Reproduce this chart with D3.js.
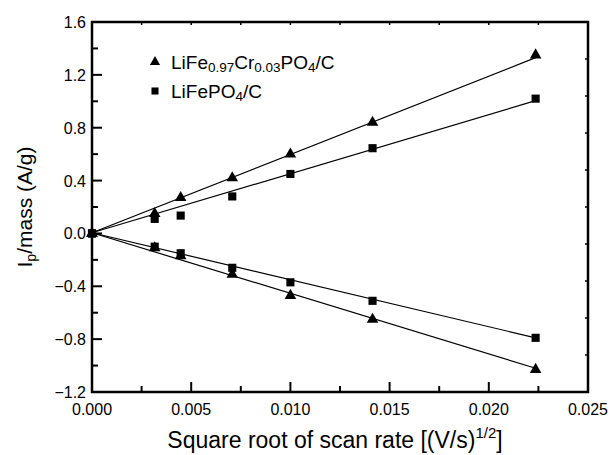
<!DOCTYPE html>
<head>
    <meta charset="utf-8">
    <style>
        body { margin: 0; background: #fff; }
        text { font-family: "Liberation Sans", Arial, sans-serif; fill: #000; }
    </style>
</head>
<body>
    <div id="chart"></div>
    <script src="https://d3js.org/d3.v7.min.js"></script>
    <script>
        // square root of scan rate, (V/s)^1/2
        var sqrtRate = [0, 0.00316, 0.00447, 0.00707, 0.0100, 0.01414, 0.02236];

        // LiFe0.97Cr0.03PO4/C, anodic (upper) and cathodic (lower) peaks
        var crAnodic   = [0, 0.15, 0.27, 0.42, 0.60, 0.84, 1.35];
        var crCathodic = [0, -0.11, -0.17, -0.31, -0.47, -0.65, -1.03];
        // LiFePO4/C
        var lfpAnodic   = [0, 0.11, 0.135, 0.28, 0.45, 0.645, 1.02];
        var lfpCathodic = [0, -0.10, -0.15, -0.26, -0.37, -0.51, -0.79];

        // linear fit end points [x, y]
        var fitEnds = [
            [[0, 0.005], [0.02236, 1.33]],
            [[0, 0.005], [0.02236, 1.005]],
            [[0, 0.005], [0.02236, -0.79]],
            [[0, 0.005], [0.02236, -1.02]]
        ];

        var xTicks = [0, 0.005, 0.010, 0.015, 0.020, 0.025];
        var yTicks = [-1.2, -0.8, -0.4, 0.0, 0.4, 0.8, 1.2, 1.6];

        var W = 611, H = 455;
        var margin = {top: 22, right: 23, bottom: 63, left: 92};
        var width = W - margin.left - margin.right,
            height = H - margin.top - margin.bottom;

        var svg = d3.select("#chart").append("svg")
            .attr("width", W)
            .attr("height", H);

        var g = svg.append("g")
            .attr("transform", "translate(" + margin.left + "," + margin.top + ")");

        var x = d3.scaleLinear().domain([0, 0.025]).range([0, width]);
        var y = d3.scaleLinear().domain([-1.2, 1.6]).range([height, 0]);

        var fmtX = d3.format(".3f");
        var fmtY = function(d) { return d3.format(".1f")(d).replace("-", "\u2212"); };

        // minor tick values
        var xMinor = d3.range(0, 11).map(function(i) { return i * 0.0025; });
        var yMinor = d3.range(0, 15).map(function(i) { return -1.2 + i * 0.2; });
        var xTop = d3.range(0, 11).map(function(i) { return i * 0.0025; });
        var yRight = d3.range(0, 11).map(function(i) { return -1.2 + i * 0.28; });

        // bottom axis ticks (inward)
        g.selectAll(".xminor").data(xMinor).enter().append("line")
            .attr("x1", function(d) { return x(d); })
            .attr("x2", function(d) { return x(d); })
            .attr("y1", height)
            .attr("y2", function(d, i) { return i % 2 === 0 ? height - 10 : height - 6; })
            .attr("stroke", "#000").attr("stroke-width", 2);

        g.selectAll(".yminor").data(yMinor).enter().append("line")
            .attr("y1", function(d) { return y(d); })
            .attr("y2", function(d) { return y(d); })
            .attr("x1", 0)
            .attr("x2", function(d, i) { return i % 2 === 0 ? 10 : 6; })
            .attr("stroke", "#000").attr("stroke-width", 2);

        // top and right small ticks
        g.selectAll(".xtop").data(xTop).enter().append("line")
            .attr("x1", function(d) { return x(d); })
            .attr("x2", function(d) { return x(d); })
            .attr("y1", 0).attr("y2", 3)
            .attr("stroke", "#000").attr("stroke-width", 1.5);

        g.selectAll(".yright").data(yRight).enter().append("line")
            .attr("y1", function(d) { return y(d); })
            .attr("y2", function(d) { return y(d); })
            .attr("x1", width).attr("x2", width - 3)
            .attr("stroke", "#000").attr("stroke-width", 1.5);

        // frame
        g.append("rect")
            .attr("x", 0).attr("y", 0)
            .attr("width", width).attr("height", height)
            .attr("fill", "none").attr("stroke", "#000").attr("stroke-width", 2.5);

        // tick labels
        g.selectAll(".xlab").data(xTicks).enter().append("text")
            .attr("x", function(d) { return x(d); })
            .attr("y", height + 23)
            .attr("text-anchor", "middle")
            .attr("font-size", 16)
            .text(fmtX);

        g.selectAll(".ylab").data(yTicks).enter().append("text")
            .attr("x", -6)
            .attr("y", function(d) { return y(d) + 6; })
            .attr("text-anchor", "end")
            .attr("font-size", 16)
            .text(fmtY);

        // fit lines
        var line = d3.line()
            .x(function(d) { return x(d[0]); })
            .y(function(d) { return y(d[1]); });

        g.selectAll(".fit").data(fitEnds).enter().append("path")
            .attr("d", line)
            .attr("fill", "none")
            .attr("stroke", "#000")
            .attr("stroke-width", 1.2);

        // markers
        var tri = d3.symbol().type(d3.symbolTriangle).size(58);
        var sq = d3.symbol().type(d3.symbolSquare).size(66);

        function drawPoints(vals, sym) {
            g.append("g").selectAll("path").data(vals).enter().append("path")
                .attr("d", sym)
                .attr("transform", function(d, i) {
                    return "translate(" + x(sqrtRate[i]) + "," + y(d) + ")";
                })
                .attr("fill", "#000");
        }
        drawPoints(lfpAnodic, sq);
        drawPoints(lfpCathodic, sq);
        drawPoints(crAnodic, tri);
        drawPoints(crCathodic, tri);

        // legend
        var lg = svg.append("g");
        lg.append("path").attr("d", d3.symbol().type(d3.symbolTriangle).size(45))
            .attr("transform", "translate(155,62)");
        lg.append("path").attr("d", d3.symbol().type(d3.symbolSquare).size(50))
            .attr("transform", "translate(155,91)");

        var t1 = lg.append("text").attr("x", 171).attr("y", 69).attr("font-size", 19);
        t1.append("tspan").text("LiFe");
        t1.append("tspan").attr("font-size", 13.5).attr("dy", 3).text("0.97");
        t1.append("tspan").attr("dy", -3).text("Cr");
        t1.append("tspan").attr("font-size", 13.5).attr("dy", 3).text("0.03");
        t1.append("tspan").attr("dy", -3).text("PO");
        t1.append("tspan").attr("font-size", 13.5).attr("dy", 3).text("4");
        t1.append("tspan").attr("dy", -3).text("/C");

        var t2 = lg.append("text").attr("x", 171).attr("y", 98).attr("font-size", 19);
        t2.append("tspan").text("LiFePO");
        t2.append("tspan").attr("font-size", 13.5).attr("dy", 3).text("4");
        t2.append("tspan").attr("dy", -3).text("/C");

        // axis titles
        var xt = svg.append("text")
            .attr("x", 335)
            .attr("y", 448)
            .attr("text-anchor", "middle")
            .attr("font-size", 23);
        xt.append("tspan").text("Square root of scan rate [(V/s)");
        xt.append("tspan").attr("font-size", 15).attr("dy", -10).text("1/2");
        xt.append("tspan").attr("dy", 10).text("]");

        var yt = svg.append("text")
            .attr("transform", "translate(32," + (margin.top + y(0.2)) + ") rotate(-90)")
            .attr("text-anchor", "middle")
            .attr("font-size", 21);
        yt.append("tspan").text("I");
        yt.append("tspan").attr("font-size", 14).attr("dy", 4).text("p");
        yt.append("tspan").attr("dy", -4).text("/mass (A/g)");
    </script>
</body>
